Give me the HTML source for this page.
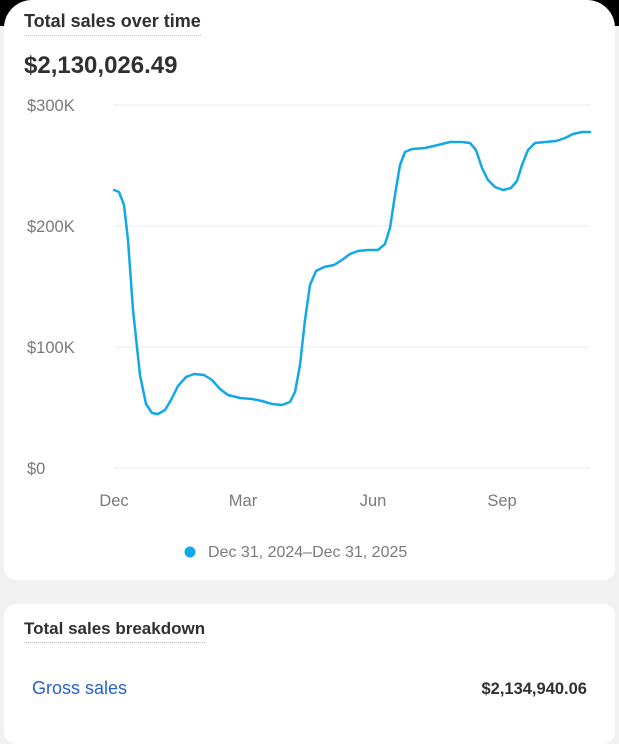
<!DOCTYPE html>
<html><head><meta charset="utf-8"><style>
body{margin:0;width:619px;height:720px;background:#f1f1f1;font-family:"Liberation Sans",sans-serif;position:relative;overflow:hidden}
.blk{position:absolute;top:0;left:0;width:619px;height:26px;background:#000}
.c1{position:absolute;left:4px;top:0;width:611px;height:580px;background:#fff;border-radius:28px 28px 12px 12px}
.c2{position:absolute;left:4px;top:604px;width:611px;height:140px;background:#fff;border-radius:12px}
.t{position:absolute;font-weight:bold;color:#303030;font-size:18px;border-bottom:1.5px dotted #bbb;padding-bottom:3px}
</style></head><body>
<div class="blk"></div>
<div class="c1"></div>
<div class="c2"></div>
<div class="t" style="left:24px;top:11px">Total sales over time</div>
<div style="position:absolute;left:24px;top:52px;font-size:24px;font-weight:bold;color:#303030">$2,130,026.49</div>
<svg style="position:absolute;left:0;top:0" width="619" height="720">
<g stroke="#ebebeb" stroke-width="1">
<line x1="114" y1="105" x2="590" y2="105"/><line x1="114" y1="226" x2="590" y2="226"/><line x1="114" y1="347" x2="590" y2="347"/><line x1="114" y1="468" x2="590" y2="468"/></g>
<g font-family="Liberation Sans" font-size="16.5" fill="#7a7a7a">
<text x="27" y="111">$300K</text><text x="27" y="232">$200K</text><text x="27" y="353">$100K</text><text x="27" y="474">$0</text>
<text x="114" y="506" text-anchor="middle">Dec</text><text x="243" y="506" text-anchor="middle">Mar</text><text x="373" y="506" text-anchor="middle">Jun</text><text x="502" y="506" text-anchor="middle">Sep</text>
<text x="208" y="557" font-size="16">Dec 31, 2024–Dec 31, 2025</text></g>
<circle cx="190" cy="552" r="5.5" fill="#12a8e8"/>
<polyline fill="none" stroke="#12a8e8" stroke-width="2.5" stroke-linejoin="round" stroke-linecap="round" points="114,190 119,192 124,205 128,240 133,310 140,375 146,404 152,413 158,414 165,410 171,400 178,386 186,377 194,374 204,375 212,380 220,389 228,395 240,398 252,399 262,401 272,404 282,405 290,402 295,392 300,365 305,320 310,285 316,271 324,267 334,265 342,260 350,254 358,251 368,250 378,250 385,244 390,228 395,195 400,165 405,152 412,149 425,148 438,145 450,142 462,142 470,143 476,150 482,168 488,180 495,187 503,190 511,188 517,181 522,165 528,150 535,143 545,142 556,141 565,138 573,134 582,132 590,132"/>
</svg>
<div class="t" style="left:24px;top:619px;font-size:17px">Total sales breakdown</div>
<div style="position:absolute;left:32px;top:678px;font-size:18px;color:#2463c9">Gross sales</div>
<div style="position:absolute;right:32px;top:680px;font-size:16.5px;font-weight:bold;color:#303030">$2,134,940.06</div>
</body></html>
